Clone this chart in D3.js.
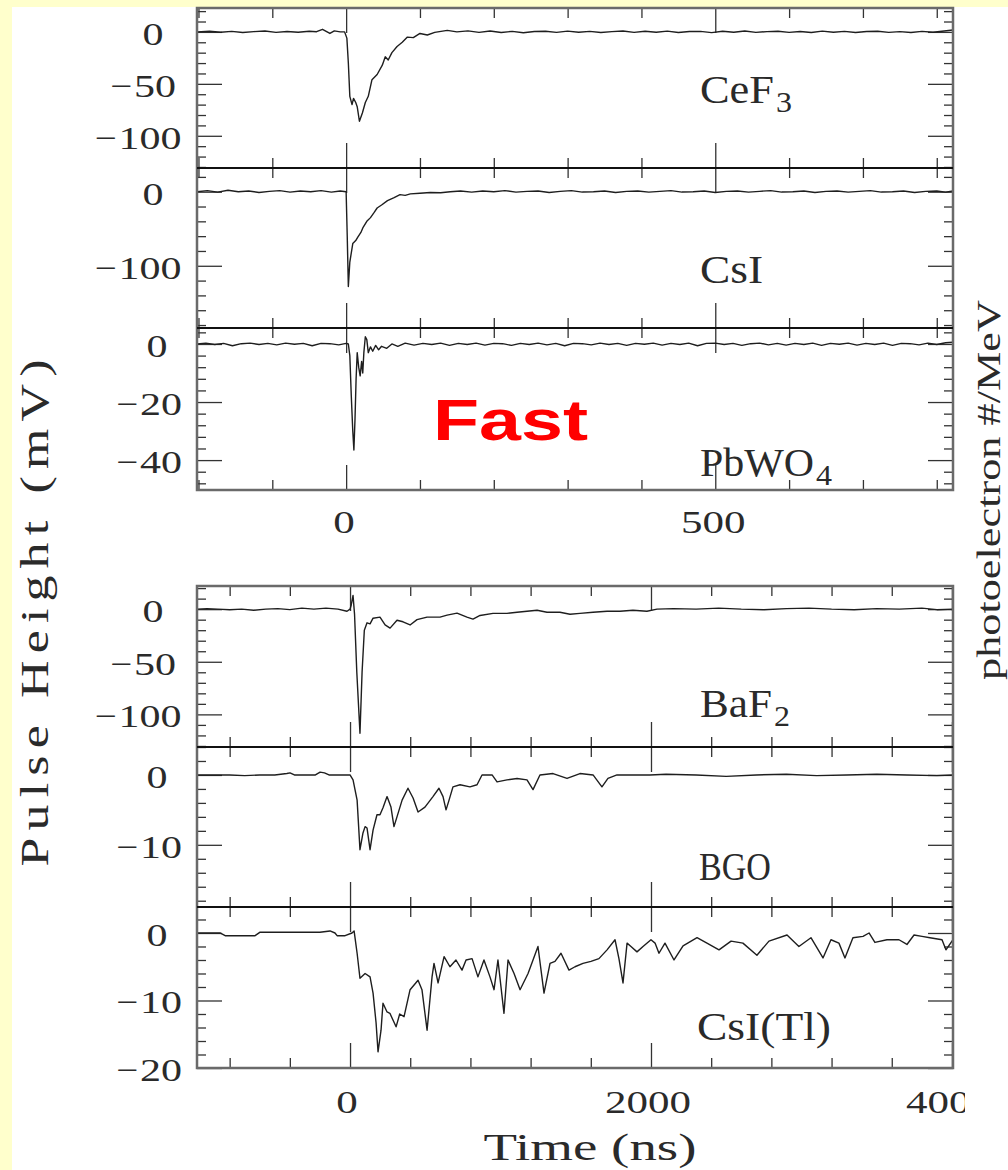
<!DOCTYPE html>
<html><head><meta charset="utf-8">
<script src="https://cdn.jsdelivr.net/npm/d3@7"></script>
<style>body{margin:0;background:#ffffcc}svg{display:block}</style>
</head><body>
<svg id="c" width="1008" height="1170"></svg>
<script>
// ---------------- DATA (time ns, pulse height mV) ----------------
const cef3 = [[-202,0],[-185,0.6],[-170,-0.4],[-155,0.5],[-140,-0.6],[-125,0.3],[-110,0.8],[-95,-0.5],[-80,0.4],[-65,-0.3],[-50,0.6],[-40,0.2],[-32,2.5],[-27,0.5],[-22,-1.5],[-16,1],[-8,0],[-2,0],[1,-6],[3,-30],[5,-62],[8,-70],[10,-64],[13,-68],[15,-72],[18,-86],[22,-78],[26,-68],[30,-62],[35,-46],[42,-41],[49,-32],[53,-24],[57,-27],[62,-20],[69,-14],[76,-10],[83,-5],[91,-5.5],[100,-1.5],[110,-3],[120,-0.5],[137,1.5],[150,0],[165,1],[180,-0.5],[195,0.8],[210,-0.6],[225,0.5],[240,-0.8],[255,0.4],[270,0.6],[285,-0.5],[300,0.7],[315,-0.4],[330,0.5],[345,-0.6],[360,0.3],[375,0.8],[390,-0.5],[405,0.6],[420,-0.3],[435,0.7],[450,-0.6],[465,0.4],[480,0.5],[495,-0.7],[510,0.6],[525,-0.4],[540,0.8],[555,-0.5],[570,0.3],[585,0.6],[600,-0.5],[615,0.4],[630,-0.6],[645,0.7],[660,-0.3],[675,0.5],[690,-0.6],[705,0.4],[720,0.6],[735,-0.5],[750,0.3],[765,-0.6],[780,0.5],[795,-0.4],[810,0.9],[822,1.8]];
const csi = [[-202,0],[-188,1.5],[-174,-0.5],[-160,2],[-146,0],[-132,1],[-118,-1],[-104,0.5],[-90,1.5],[-76,-0.5],[-62,1],[-48,0],[-34,1.5],[-20,-0.5],[-8,1],[0,0],[1.5,-60],[3,-128],[5,-95],[9,-70],[13,-66],[16,-61],[20,-55],[23,-48],[28,-40],[33,-35],[38,-28],[42,-22],[48,-18],[56,-12],[65,-8],[73,-4],[80,-5],[87,-3],[100,-2],[114,-1],[128,-1.5],[141,0],[155,1],[170,-0.5],[185,1],[200,0],[215,1.5],[230,-0.5],[245,0.5],[260,1],[275,-1],[290,0.5],[305,1.5],[320,-0.5],[335,0],[350,1],[365,-1],[380,0.5],[395,1],[410,-0.5],[425,0.5],[440,1.5],[455,-0.5],[470,0],[485,1],[500,-1],[515,0.5],[530,1],[545,-0.5],[560,0.5],[575,1.5],[590,-0.5],[605,0],[620,1],[635,-1],[650,0.5],[665,1],[680,-0.5],[695,0.5],[710,1.5],[725,-0.5],[740,0],[755,1],[770,-1],[785,0.5],[800,1],[812,-0.5],[822,1]];
const pbwo4 = [[-202,0],[-190,0.3],[-178,-0.2],[-166,0.2],[-154,-0.6],[-142,0.1],[-130,0.3],[-118,-0.2],[-106,0.2],[-94,-0.3],[-82,0.3],[-70,-0.1],[-58,0.2],[-46,-0.6],[-34,0.2],[-22,0.1],[-10,-0.3],[0,0.2],[3,0],[5,-4],[7,-18],[9,-30],[10.5,-36.5],[12,-26],[13.5,-12],[15,-3],[17,-8],[19,-11],[21,-6],[22.5,-10],[24,-3],[26,2.5],[28,1.5],[30,-3],[33,-1],[36,-2.5],[40,-0.5],[44,-2],[48,-0.8],[55,-1.5],[62,0],[70,-0.8],[80,0.3],[92,-0.4],[104,0.2],[116,-0.2],[128,0.3],[140,-0.5],[152,0.2],[164,-0.2],[176,0.3],[188,-0.4],[200,0.2],[212,0.1],[224,-0.5],[236,0.2],[248,-0.2],[260,0.3],[272,-0.3],[284,0.2],[296,-0.6],[308,0.2],[320,0.1],[332,-0.3],[344,0.3],[356,-0.2],[368,0.2],[380,-0.5],[392,0.2],[404,-0.1],[416,0.3],[428,-0.4],[440,0.2],[452,-0.2],[464,0.3],[476,-0.6],[488,0.2],[500,0.3],[512,-0.2],[524,0.2],[536,-0.5],[548,0.1],[560,0.3],[572,-0.3],[584,0.2],[596,-0.4],[608,0.2],[620,-0.2],[632,0.3],[644,-0.5],[656,0.2],[668,-0.1],[680,0.3],[692,-0.4],[704,0.2],[716,-0.2],[728,0.3],[740,-0.5],[752,0.2],[764,0.1],[776,-0.3],[788,0.3],[800,-0.2],[812,0.4],[822,0.6]];
const baf2 = [[-1017,0],[-950,0.5],[-880,0],[-800,-0.5],[-720,0],[-640,-1],[-560,0],[-480,0.5],[-400,-0.5],[-320,1],[-240,0],[-160,1],[-80,0],[-20,-2],[0,0],[8,4],[20,13],[30,-5],[45,-60],[66,-118],[80,-60],[95,-20],[113,-13],[133,-14],[153,-8.6],[199,-7.6],[233,-15],[266,-18],[312,-10.5],[352,-12],[399,-15],[445,-10],[512,-7.6],[598,-7.6],[645,-5.7],[711,-3.8],[777,-7.6],[817,-9.5],[864,-6],[950,-4],[1043,-4],[1110,-3],[1176,-2],[1243,-1],[1309,-3],[1395,-3],[1462,-4.8],[1528,-4],[1615,-3],[1708,-2],[1794,-2],[1880,-1],[1973,-2],[2040,0],[2150,0.5],[2300,0],[2450,1],[2600,0],[2750,-0.5],[2900,0.5],[3050,1],[3200,0],[3350,-0.5],[3500,0.5],[3650,0],[3800,1],[3900,-0.5],[4007,0]];
const bgo = [[-1017,0],[-900,0],[-800,0],[-700,-0.1],[-600,0],[-500,0],[-420,0.2],[-399,0.3],[-370,0],[-230,0],[-199,0.4],[-170,0.3],[-140,0],[0,0],[20,-0.7],[47,-3.6],[66,-10.7],[86,-8.3],[100,-7.4],[113,-7.6],[133,-10.7],[153,-7.9],[179,-5.7],[199,-5.7],[219,-4.7],[246,-3.1],[272,-4.6],[292,-7.4],[312,-6],[346,-3.6],[385,-1.9],[419,-3.3],[452,-5.3],[498,-4.6],[551,-3.1],[591,-1.9],[618,-3.1],[638,-5],[658,-3.6],[684,-1.7],[731,-1.4],[797,-1.7],[844,-1.4],[877,0],[944,0],[977,-1],[1043,-0.7],[1110,-0.5],[1176,-0.7],[1216,-2.1],[1262,0],[1349,0.2],[1442,-0.5],[1528,0.2],[1615,0],[1674,-1.7],[1714,-0.5],[1774,0],[1880,0],[1993,0],[2100,0.1],[2300,0],[2500,-0.2],[2700,0],[2900,0.1],[3100,-0.1],[3300,0],[3500,0.1],[3700,0],[3900,-0.1],[4007,0]];
const csitl = [[-1017,0],[-864,0],[-830,-0.4],[-700,-0.4],[-631,-0.4],[-600,0.1],[-400,0.1],[-200,0.1],[-133,0.3],[-100,0],[-86,-0.4],[-33,-0.4],[13,0],[27,0.3],[47,-3],[66,-6.7],[100,-6],[133,-6.5],[153,-8.9],[173,-13.3],[186,-17.6],[206,-14.4],[219,-10.4],[246,-11.7],[265,-11.9],[306,-13.9],[330,-12],[359,-12.4],[399,-8.4],[452,-7],[478,-8.4],[512,-14.4],[545,-6.5],[558,-4.5],[585,-7.4],[625,-3.5],[664,-5],[704,-4],[744,-5.5],[771,-4],[811,-3.8],[850,-6.5],[890,-4],[930,-6.5],[957,-8.4],[983,-4],[1023,-11.9],[1050,-4],[1090,-6],[1130,-8.4],[1183,-6],[1249,-2],[1289,-8.9],[1329,-4.5],[1362,-4.2],[1402,-3],[1455,-5.5],[1495,-5],[1548,-4.5],[1601,-4.2],[1654,-3.8],[1708,-2.5],[1761,-1],[1787,-3.8],[1814,-7.4],[1841,-1.5],[1867,-2],[1907,-2.8],[1947,-2],[2000,-1],[2027,-1.5],[2053,-3],[2093,-1.5],[2153,-4],[2213,-1.9],[2306,-0.7],[2372,-1.5],[2452,-2.5],[2532,-1.2],[2611,-1.5],[2704,-3.3],[2784,-1.2],[2904,-0.3],[2983,-2],[3063,-0.7],[3143,-3.7],[3196,-1],[3249,-1.5],[3289,-3.7],[3342,-0.7],[3409,-0.5],[3449,0],[3488,-1.4],[3568,-1],[3648,-1],[3701,-1.7],[3748,-0.3],[3801,-0.5],[3854,-0.7],[3934,-1],[3960,-2.5],[4007,-1]];

const upperXTicks = [0, 500];
const lowerXTicks = [0, 2000, 4000];
const cef3YTicks = [0, -50, -100];
const csiYTicks = [0, -100];
const pbwo4YTicks = [0, -20, -40];
const baf2YTicks = [0, -50, -100];
const bgoYTicks = [0, -10];
const csitlYTicks = [0, -10, -20];
const crystalNames = [["CeF","3"],["CsI",""],["PbWO","4"],["BaF","2"],["BGO",""],["CsI(Tl)",""]];

// ---------------- LAYOUT ----------------
const W = 1008, H = 1170, X0 = 197, X1 = 953;
const svg = d3.select('#c');
svg.append('rect').attr('width', W).attr('height', H).attr('fill', '#ffffcc');
svg.append('rect').attr('x', 12).attr('y', 7).attr('width', W - 12).attr('height', H - 7).attr('fill', '#ffffff');

const xUpper = d3.scaleLinear().domain([-202, 822]).range([X0, X1]);
const xLower = d3.scaleLinear().domain([-1017, 4007]).range([X0, X1]);

const panels = [
  {data: cef3,  x: xUpper, top: 8,   bottom: 168,  domain: [-131, 23],   major: cef3YTicks,  minor: 10, xMinor: 100, xMajor: upperXTicks, name: crystalNames[0], lx: 700, ly: 103, lw: 74, cx: {1:153,2:155,3:150}},
  {data: csi,   x: xUpper, top: 168, bottom: 328,  domain: [-184, 32],   major: csiYTicks,   minor: 20, xMinor: 100, xMajor: upperXTicks, name: crystalNames[1], lx: 700, ly: 283, lw: 63, cx: {1:153,2:155,3:150}},
  {data: pbwo4, x: xUpper, top: 328, bottom: 490,  domain: [-50.3, 5.5], major: pbwo4YTicks, minor: 4,  xMinor: 100, xMajor: upperXTicks, name: crystalNames[2], lx: 700, ly: 476, lw: 114, cx: {1:157,2:161,3:150}},
  {data: baf2,  x: xLower, top: 586, bottom: 747,  domain: [-131, 22],   major: baf2YTicks,  minor: 10, xMinor: 400, xMajor: lowerXTicks, name: crystalNames[3], lx: 700, ly: 717, lw: 72, cx: {1:153,2:155,3:150}},
  {data: bgo,   x: xLower, top: 747, bottom: 907,  domain: [-18.9, 4],   major: bgoYTicks,   minor: 2,  xMinor: 400, xMajor: lowerXTicks, name: crystalNames[4], lx: 699, ly: 880, lw: 72, cx: {1:157,2:161,3:150}},
  {data: csitl, x: xLower, top: 907, bottom: 1068, domain: [-20, 3.85],  major: csitlYTicks, minor: 2,  xMinor: 400, xMajor: lowerXTicks, name: crystalNames[5], lx: 697, ly: 1040, lw: 134, cx: {1:157,2:161,3:150}}
];

const INK = '#2a2a2a';
function txt(parent, s, x, y, o) {
  const t = parent.append('text').attr('x', x).attr('y', y).text(s)
    .attr('font-family', o.family || '"Liberation Serif", serif')
    .attr('font-size', o.size).attr('fill', o.fill || INK)
    .attr('text-anchor', o.anchor || 'start');
  if (o.weight) t.attr('font-weight', o.weight);
  if (o.len) t.attr('textLength', o.len).attr('lengthAdjust', o.adjust || 'spacingAndGlyphs');
  if (o.transform) t.attr('transform', o.transform);
  return t;
}
function stepVals(dom, step, exclude) {
  const lo = Math.ceil(Math.min(dom[0], dom[1]) / step) * step;
  const hi = Math.floor(Math.max(dom[0], dom[1]) / step) * step;
  return d3.range(lo, hi + step / 2, step).filter(v => !exclude.some(e => Math.abs(e - v) < 1e-9));
}
function styleAxis(g) {
  g.select('.domain').remove();
  g.selectAll('text').remove();
  g.selectAll('line').attr('stroke', '#333').attr('stroke-width', 1.3);
}

const defs = svg.append('defs');
panels.forEach((p, i) => {
  const y = d3.scaleLinear().domain(p.domain).range([p.bottom, p.top]);
  const g = svg.append('g');
  defs.append('clipPath').attr('id', 'cp' + i).append('rect')
    .attr('x', X0).attr('y', p.top).attr('width', X1 - X0).attr('height', p.bottom - p.top);

  // y ticks (left & right, inward)
  const yMinor = stepVals(p.domain, p.minor, p.major);
  g.append('g').attr('transform', `translate(${X0},0)`).call(d3.axisRight(y).tickValues(yMinor).tickSize(9)).call(styleAxis);
  g.append('g').attr('transform', `translate(${X0},0)`).call(d3.axisRight(y).tickValues(p.major).tickSize(25)).call(styleAxis);
  g.append('g').attr('transform', `translate(${X1},0)`).call(d3.axisLeft(y).tickValues(yMinor).tickSize(9)).call(styleAxis);
  g.append('g').attr('transform', `translate(${X1},0)`).call(d3.axisLeft(y).tickValues(p.major).tickSize(25)).call(styleAxis);
  // x ticks top & bottom, inward
  const xMinor = stepVals(p.x.domain(), p.xMinor, p.xMajor);
  g.append('g').attr('transform', `translate(0,${p.top})`).call(d3.axisBottom(p.x).tickValues(xMinor).tickSize(10)).call(styleAxis);
  g.append('g').attr('transform', `translate(0,${p.top})`).call(d3.axisBottom(p.x).tickValues(p.xMajor).tickSize(25)).call(styleAxis);
  g.append('g').attr('transform', `translate(0,${p.bottom})`).call(d3.axisTop(p.x).tickValues(xMinor).tickSize(10)).call(styleAxis);
  g.append('g').attr('transform', `translate(0,${p.bottom})`).call(d3.axisTop(p.x).tickValues(p.xMajor).tickSize(25)).call(styleAxis);

  // y tick labels: digits centred, minus hanging to the left
  p.major.forEach(v => {
    const digits = String(Math.abs(v));
    const n = digits.length;
    const cx = p.cx[n];
    const w = n * 21;
    const yy = y(v) + 13;
    txt(svg, digits, cx, yy, {size: 32, anchor: 'middle', len: w});
    if (v < 0) txt(svg, '\u2212', cx - w / 2 - 2, yy, {size: 32, anchor: 'end', len: 22});
  });

  // trace
  const line = d3.line().x(d => p.x(d[0])).y(d => y(d[1]));
  g.append('path').datum(p.data).attr('d', line).attr('fill', 'none')
    .attr('stroke', '#1e1e1e').attr('stroke-width', 1.4).attr('stroke-linejoin', 'round')
    .attr('clip-path', `url(#cp${i})`);

  // crystal label
  txt(svg, p.name[0], p.lx, p.ly, {size: 39, len: p.lw});
  if (p.name[1]) txt(svg, p.name[1], p.lx + p.lw + 2, p.ly + 9, {size: 29, len: 16});
});

// frames and separators
[[8, 490], [586, 1068]].forEach(([t, b]) => {
  svg.append('rect').attr('x', X0).attr('y', t).attr('width', X1 - X0).attr('height', b - t)
    .attr('fill', 'none').attr('stroke', '#6a6a6a').attr('stroke-width', 2.5);
});
[168, 328, 747, 907].forEach(v => {
  svg.append('line').attr('x1', X0).attr('x2', X1).attr('y1', v).attr('y2', v)
    .attr('stroke', '#111').attr('stroke-width', 2);
});

// x tick labels
upperXTicks.forEach(v => {
  const s = String(v);
  txt(svg, s, xUpper(v) - 2, 533, {size: 32, anchor: 'middle', len: s.length * 21.5});
});
defs.append('clipPath').attr('id', 'pageclip').append('rect').attr('x', 0).attr('y', 0).attr('width', 965).attr('height', H);
const lowerLab = svg.append('g').attr('clip-path', 'url(#pageclip)');
lowerXTicks.forEach(v => {
  const s = String(v);
  txt(lowerLab, s, xLower(v) - 3, 1113, {size: 32, anchor: 'middle', len: s.length * 21.5});
});

// axis titles
txt(svg, 'Time (ns)', 590, 1160, {size: 38, anchor: 'middle', len: 213});
txt(svg, 'Pulse Height (mV)', 0, 0, {size: 40, anchor: 'middle', len: 390, adjust: 'spacing', transform: 'translate(48,613) rotate(-90) scale(1.3,1)'});
txt(svg, 'photoelectron #/MeV', 0, 0, {size: 34, anchor: 'middle', len: 380, transform: 'translate(1000,490) rotate(-90)'});

// annotation
txt(svg, 'Fast', 433, 440, {size: 58, family: '"Liberation Sans", Arial, sans-serif', weight: 'bold', fill: '#ff0000', len: 155});
</script>
</body></html>
